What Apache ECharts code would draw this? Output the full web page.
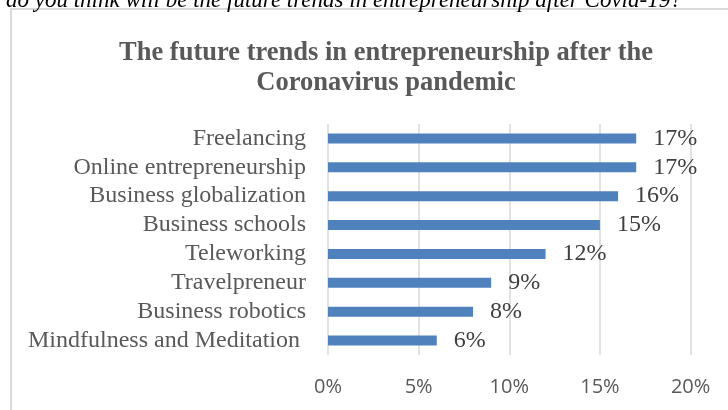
<!DOCTYPE html>
<html>
<head>
<meta charset="utf-8">
<script src="https://cdn.jsdelivr.net/npm/echarts@6/dist/echarts.min.js"></script>
<style>
html,body{margin:0;padding:0;background:#fff;}
#chart{width:728px;height:410px;}
</style>
</head>
<body>
<div id="chart"></div>
<script>
const categories = ["Freelancing","Online entrepreneurship","Business globalization","Business schools","Teleworking","Travelpreneur","Business robotics","Mindfulness and Meditation "];
const values = [17,17,16,15,12,9,8,6];
const xTicks = [0,5,10,15,20];
const titleText = "The future trends in entrepreneurship after the\nCoronavirus pandemic";
const captionText = "do you think will be the future trends in entrepreneurship after Covid-19?";

const chart = echarts.init(document.getElementById('chart'), null, {renderer:'canvas'});
chart.setOption({
  backgroundColor:'#ffffff',
  animation:false,
  title:{
    text:titleText,
    left:381, top:33, textAlign:'center',
    textStyle:{fontFamily:'Liberation Serif', fontWeight:'bold', fontSize:26.5, lineHeight:30, color:'#595959'}
  },
  graphic:[
    {type:'rect', shape:{x:11,y:9,width:760,height:430}, style:{fill:'none', stroke:'#d9d9d9', lineWidth:2}, z:-1},
    {type:'text', left:6, top:-11, style:{text:captionText, font:'italic 23px "Liberation Serif"', fill:'#000'}}
  ],
  grid:{left:328, right:37.4, top:124, bottom:55, containLabel:false},
  xAxis:{
    type:'value', min:xTicks[0], max:xTicks[xTicks.length-1], interval:5,
    axisLine:{show:false}, axisTick:{show:false},
    splitLine:{show:true, lineStyle:{color:'#d9d9d9', width:1.5}},
    axisLabel:{formatter:v=>v+'%', margin:22, fontFamily:'Open Sans', fontSize:20, color:'#595959'}
  },
  yAxis:{
    type:'category', data:categories, inverse:true,
    axisLine:{show:false}, axisTick:{show:false},
    axisLabel:{interval:0, margin:22, fontFamily:'Liberation Serif', fontSize:24, color:'#595959'}
  },
  series:[{
    type:'bar', data:values, barWidth:10,
    itemStyle:{color:'#4f81bd'},
    label:{show:true, position:'right', distance:17, formatter:p=>p.value+'%', fontFamily:'Liberation Serif', fontSize:24, color:'#404040'}
  }]
});
</script>
</body>
</html>
